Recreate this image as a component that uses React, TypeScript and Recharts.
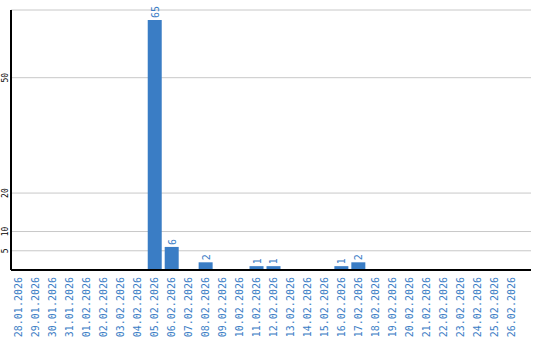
import { Bar, BarChart, CartesianGrid, XAxis, YAxis } from "recharts";

const dates = [
  "28.01.2026", "29.01.2026", "30.01.2026", "31.01.2026", "01.02.2026",
  "02.02.2026", "03.02.2026", "04.02.2026", "05.02.2026", "06.02.2026",
  "07.02.2026", "08.02.2026", "09.02.2026", "10.02.2026", "11.02.2026",
  "12.02.2026", "13.02.2026", "14.02.2026", "15.02.2026", "16.02.2026",
  "17.02.2026", "18.02.2026", "19.02.2026", "20.02.2026", "21.02.2026",
  "22.02.2026", "23.02.2026", "24.02.2026", "25.02.2026", "26.02.2026"
];
const counts = [
  0, 0, 0, 0, 0, 0, 0, 0, 65, 6,
  0, 2, 0, 0, 1, 1, 0, 0, 0, 1,
  2, 0, 0, 0, 0, 0, 0, 0, 0, 0
];
const yTicks = [5, 10, 20, 50];

const data = dates.map((d, i) => ({ date: d, count: counts[i] }));

const BLUE = "#3a7dc5";
const MONO = "'DejaVu Sans Mono', monospace";

// x tick: rotated, reads bottom-to-top, ends just under the axis
function DateTick({ x, y, payload }: any) {
  const tx = x + 3;
  const ty = y - 1;
  return (
    <text
      x={tx}
      y={ty}
      transform={`rotate(-90 ${tx} ${ty})`}
      textAnchor="end"
      fill={BLUE}
      fontSize={10}
      fontFamily={MONO}
    >
      {payload.value}
    </text>
  );
}

function ValueTick({ y, payload }: any) {
  return (
    <text
      x={8}
      y={y}
      transform={`rotate(-90 8 ${y})`}
      textAnchor="middle"
      fill="#000"
      fontSize={8}
      fontFamily={MONO}
    >
      {payload.value}
    </text>
  );
}

function TopLabel({ x, y, width, value }: any) {
  if (!value) return null;
  const lx = x + width / 2 + 4;
  const ly = y - 2;
  return (
    <text
      x={lx}
      y={ly}
      transform={`rotate(-90 ${lx} ${ly})`}
      textAnchor="start"
      fill={BLUE}
      fontSize={10}
      fontFamily={MONO}
    >
      {value}
    </text>
  );
}

export default function App() {
  return (
    <div style={{ position: "absolute", left: 0, top: 0, background: "#fff" }}>
      <BarChart
        width={540}
        height={340}
        data={data}
        margin={{ top: 10, right: 9, bottom: 0, left: 0 }}
        barSize={14}
      >
        <CartesianGrid vertical={false} stroke="#c8c8c8" />
        <XAxis
          dataKey="date"
          interval={0}
          height={70}
          tickLine={false}
          axisLine={{ stroke: "#000", strokeWidth: 2 }}
          tick={<DateTick />}
          padding={{ left: 0, right: 11 }}
        />
        <YAxis
          width={11}
          domain={[0, 67.6]}
          ticks={yTicks}
          interval={0}
          tickLine={false}
          axisLine={{ stroke: "#000", strokeWidth: 2 }}
          tick={<ValueTick />}
        />
        <Bar
          dataKey="count"
          fill={BLUE}
          isAnimationActive={false}
          label={<TopLabel />}
        />
      </BarChart>
    </div>
  );
}
